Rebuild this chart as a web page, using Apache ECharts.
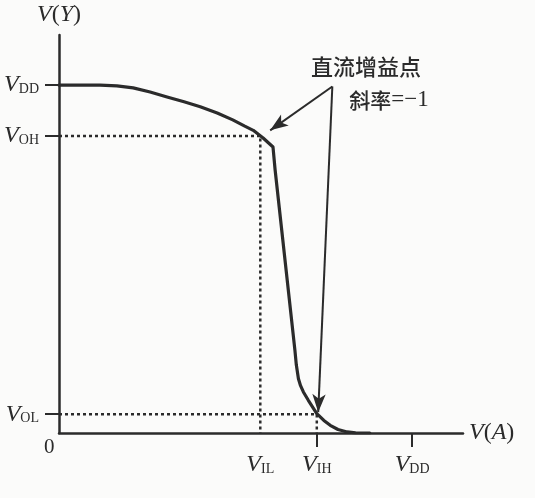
<!DOCTYPE html>
<html><head><meta charset="utf-8">
<script src="https://cdn.jsdelivr.net/npm/echarts@6/dist/echarts.min.js"></script>
<style>html,body{margin:0;padding:0;background:#fbfbfa}#c{width:535px;height:498px}</style>
</head><body><div id="c"></div>
<script>
// Key voltages (in units where VDD = 5)
const VDD = 5, VOH = 4.27, VOL = 0.27, VIL = 2.85, VIH = 3.65;
const AXIS_MAX = 5.72;
// Transfer curve V(Y) vs V(A)
const curveX = [0, 0.58, 0.82, 1.05, 1.29, 1.53, 1.77, 2.00, 2.24, 2.46, 2.63, 2.75, 2.89, 3.03, 3.06, 3.34, 3.36, 3.39, 3.42, 3.46, 3.53, 3.65, 3.75, 3.84, 3.95, 4.08, 4.20, 4.40];
const curveY = [5.0, 5.0, 4.99, 4.96, 4.90, 4.83, 4.76, 4.69, 4.60, 4.50, 4.41, 4.35, 4.24, 4.11, 3.78, 1.19, 0.98, 0.78, 0.68, 0.59, 0.47, 0.28, 0.18, 0.11, 0.05, 0.015, 0.003, 0];
// Tick values and names
const xTickVals = [VIL, VIH, VDD];
const xTickNames = ['IL', 'IH', 'DD'];
const yTickVals = [VOL, VOH, VDD];
const yTickNames = ['OL', 'OH', 'DD'];
// Annotation arrows (shared start point)
const arrowStart = [3.87, 4.98];
const arrowEnds = [[2.99, 4.35], [3.67, 0.30]];

const ink = '#2b2b2b';
const serif = 'Liberation Serif';
const rich = {
  v: {fontFamily: serif, fontStyle: 'italic', fontSize: 24, color: ink},
  s: {fontFamily: serif, fontSize: 14, color: ink, padding: [9, 0, 0, 0]},
  n: {fontFamily: serif, fontSize: 24, color: ink}
};
function nameFor(vals, names, v) {
  for (let i = 0; i < vals.length; i++) if (Math.abs(vals[i] - v) < 1e-6) return '{v|V}{s|' + names[i] + '}';
  return '';
}
const chart = echarts.init(document.getElementById('c'), null, {renderer: 'canvas'});
chart.setOption({
  backgroundColor: '#fbfbfa',
  animation: false,
  grid: {left: 59, right: 72, top: 35, bottom: 65},
  xAxis: {
    type: 'value', min: 0, max: AXIS_MAX,
    name: '{v|V}{n|(}{v|A}{n|)}', nameLocation: 'end', nameGap: 6,
    nameTextStyle: {rich: rich, verticalAlign: 'middle'},
    axisLine: {lineStyle: {color: ink, width: 2.5}},
    axisTick: {show: true, customValues: [VIH, VDD], length: 14, lineStyle: {color: ink, width: 2}},
    axisLabel: {customValues: xTickVals, margin: 20, formatter: v => nameFor(xTickVals, xTickNames, v), rich: rich},
    splitLine: {show: false}
  },
  yAxis: {
    type: 'value', min: 0, max: AXIS_MAX,
    name: '{v|V}{n|(}{v|Y}{n|)}', nameLocation: 'end', nameGap: 8,
    nameTextStyle: {rich: rich},
    axisLine: {lineStyle: {color: ink, width: 2.5}},
    axisTick: {show: true, customValues: yTickVals, length: 14, lineStyle: {color: ink, width: 2}},
    axisLabel: {customValues: yTickVals, margin: 20, formatter: v => nameFor(yTickVals, yTickNames, v), rich: rich},
    splitLine: {show: false}
  },
  series: [
    {type: 'line', data: [[0, VOH], [VIL, VOH], [VIL, 0]], symbol: 'none', lineStyle: {color: ink, width: 2.5, type: [3, 3]}, z: 1},
    {type: 'line', data: [[0, VOL], [VIH, VOL], [VIH, 0]], symbol: 'none', lineStyle: {color: ink, width: 2.5, type: [3, 3]}, z: 1},
    {type: 'line', data: curveX.map((x, i) => [x, curveY[i]]), symbol: 'none', smooth: false,
     lineStyle: {color: ink, width: 3.2, join: 'round', cap: 'round'}, z: 3,
     markLine: {silent: true, symbol: ['none', 'arrow'], symbolSize: [10, 18],
       lineStyle: {color: ink, width: 2, type: 'solid'}, label: {show: false},
       data: arrowEnds.map(e => [{coord: arrowStart}, {coord: e}])}}
  ],
  graphic: [
    {type: 'text', left: 44, top: 437, style: {text: '0', font: '21px "Liberation Serif"', fill: ink}},
    {type: 'text', x: 366, y: 67, style: {text: '直流增益点', font: '500 22px "Noto Sans CJK SC"', fill: ink, align: 'center', verticalAlign: 'middle'}},
    {type: 'text', x: 389, y: 100, style: {text: '{c|斜率}{e|=−1}', fill: ink, align: 'center', verticalAlign: 'middle',
      rich: {c: {font: '500 21px "Noto Sans CJK SC"', fill: ink}, e: {font: '23px "Liberation Serif"', fill: ink}}}}
  ]
});
</script></body></html>
